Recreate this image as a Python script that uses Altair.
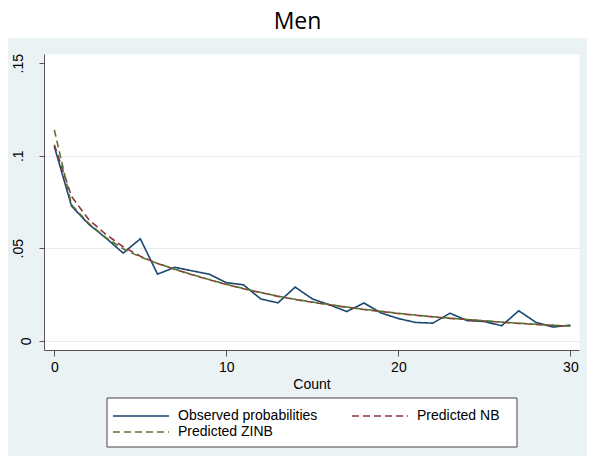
import altair as alt
import pandas as pd

counts = list(range(31))
observed = [0.105, 0.0728, 0.063, 0.0555, 0.0474, 0.0551, 0.036, 0.0397, 0.0378, 0.036,
            0.0314, 0.0302, 0.0226, 0.0205, 0.029, 0.0226, 0.0194, 0.0158, 0.0204, 0.0150,
            0.0120, 0.0099, 0.0095, 0.0149, 0.0109, 0.0104, 0.0081, 0.0162, 0.0099, 0.0074,
            0.0085]
pred_nb = [0.106, 0.078, 0.0655, 0.0575, 0.0508, 0.0457, 0.0418, 0.0386, 0.0357, 0.033,
           0.0304, 0.0281, 0.026, 0.0240, 0.0223, 0.0208, 0.0194, 0.0181, 0.0169, 0.0158,
           0.0147, 0.0138, 0.0129, 0.0121, 0.0114, 0.0107, 0.0100, 0.0094, 0.0088, 0.0083,
           0.0078]
pred_zinb = [0.114, 0.0735, 0.0635, 0.0557, 0.0497, 0.0453, 0.0418, 0.0387, 0.0358, 0.0331,
             0.0305, 0.0282, 0.0261, 0.0241, 0.0224, 0.0209, 0.0195, 0.0182, 0.0170, 0.0159,
             0.0148, 0.0139, 0.0130, 0.0122, 0.0115, 0.0108, 0.0101, 0.0095, 0.0089, 0.0084,
             0.0079]
series_names = ["Observed probabilities", "Predicted NB", "Predicted ZINB"]
series_colors = ["#1a476f", "#90353b", "#55752f"]
series_dash = [[1, 0], [7, 4], [7, 4]]
y_ticks = [0, 0.05, 0.1, 0.15]
x_ticks = [0, 10, 20, 30]
chart_title = "Men"
x_title = "Count"

rows = []
for name, vals in zip(series_names, [observed, pred_nb, pred_zinb]):
    for c, v in zip(counts, vals):
        rows.append({"count": c, "prob": v, "series": name})
df = pd.DataFrame(rows)

W, H = 535, 296
FONT = "Liberation Sans"

lines = alt.Chart(df).mark_line(strokeWidth=1.6).encode(
    x=alt.X("count:Q", scale=alt.Scale(domain=[-0.6, 30.5], nice=False, zero=False),
            axis=alt.Axis(values=x_ticks, title=x_title, grid=False, format="d",
                          labelFontSize=14, labelFont=FONT, labelColor="#000",
                          titleFontSize=14, titleFont=FONT, titleFontWeight="normal",
                          titleColor="#000", titlePadding=3, tickSize=6, labelPadding=4,
                          domainColor="#555", tickColor="#555", labelFlush=False)),
    y=alt.Y("prob:Q", scale=alt.Scale(domain=[-0.005, 0.155], nice=False, zero=False),
            axis=alt.Axis(values=y_ticks, title=None, labelAngle=270, labelAlign="center",
                          labelBaseline="bottom",
                          labelExpr="replace(format(datum.value, ''), '0.', '.')",
                          labelFontSize=14, labelFont=FONT, labelColor="#000",
                          labelPadding={"condition": {"test": "datum.value == 0", "value": 6},
                                        "value": 14},
                          tickSize=5, domainColor="#555", tickColor="#555",
                          gridColor={"condition": {"test": "datum.value > 0.14", "value": "transparent"},
                                     "value": "#e3ecee"},
                          labelFlush=False)),
    color=alt.Color("series:N", scale=alt.Scale(domain=series_names, range=series_colors),
                    legend=alt.Legend(title=None, orient="none", legendX=89, legendY=354,
                                      columns=2, direction="horizontal",
                                      symbolType="M-4,0H4", symbolSize=196,
                                      symbolStrokeWidth=1.5, labelFontSize=14, labelFont=FONT,
                                      labelColor="#000", labelOffset=29, columnPadding=31,
                                      rowPadding=1, padding=0)),
    strokeDash=alt.StrokeDash("series:N", scale=alt.Scale(domain=series_names, range=series_dash),
                              legend=None),
    order=alt.Order("count:Q"),
)

one = pd.DataFrame({"a": [0]})
top_band = alt.Chart(one).mark_rect(color="white").encode(
    x=alt.value(-36), x2=alt.value(W + 8), y=alt.value(-46), y2=alt.value(-16))
legend_box = alt.Chart(one).mark_rect(fill="white", stroke="#444", strokeWidth=1).encode(
    x=alt.value(63), x2=alt.value(473), y=alt.value(344), y2=alt.value(393))
title_text = alt.Chart(one).mark_text(text=chart_title, font="Open Sans", fontSize=23,
                                      color="#000", align="center", baseline="middle").encode(
    x=alt.value(253.5), y=alt.value(-32))

chart = alt.layer(top_band, legend_box, lines, title_text).properties(
    width=W, height=H,
    autosize=alt.AutoSizeParams(type="none"),
    padding={"left": 36, "top": 46, "right": 8, "bottom": 106},
    background="#eaf2f3",
).configure_view(fill="white", stroke="transparent")

chart.save("out.html", embed_options={"renderer": "svg", "actions": False})
